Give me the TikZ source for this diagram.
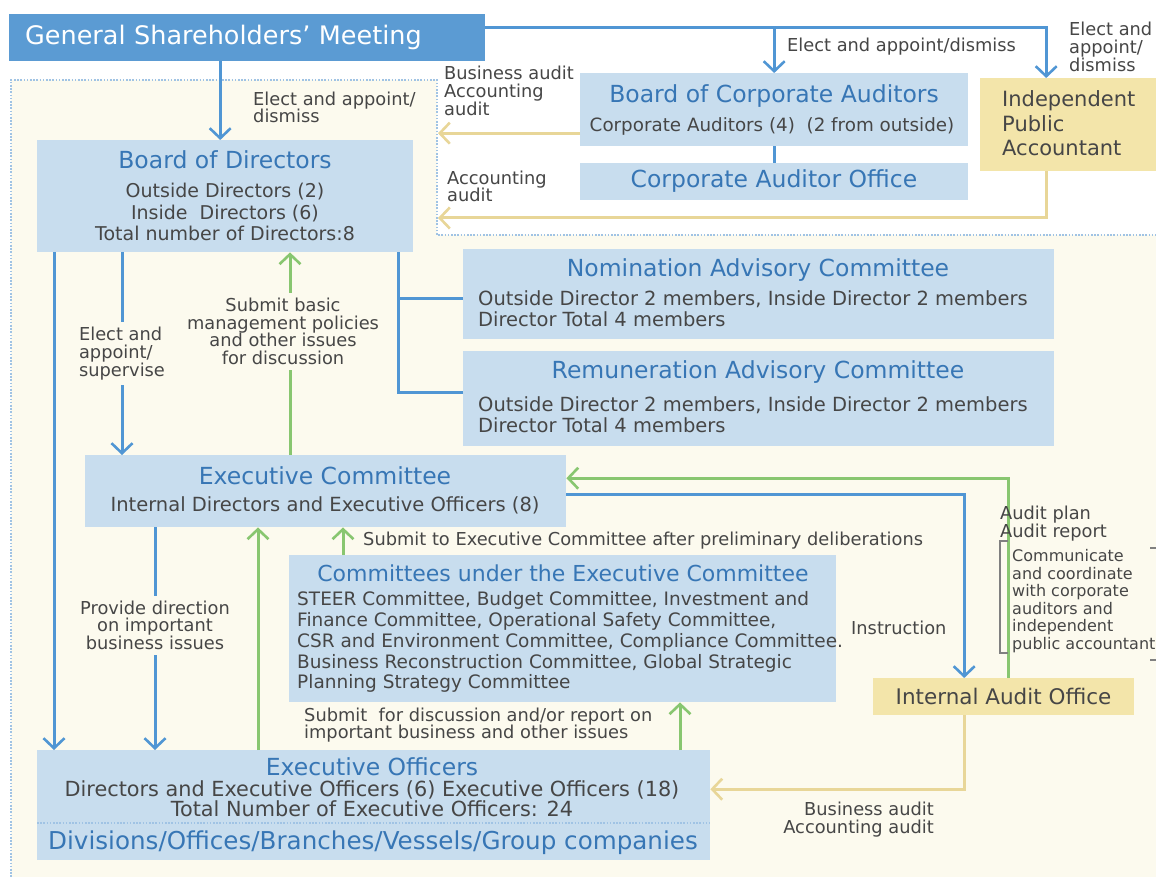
\documentclass[tikz,border=0pt]{standalone}
\usepackage{fontspec}
\setmainfont{DejaVu Sans}
\usetikzlibrary{positioning,arrows.meta}
\definecolor{gsmblue}{RGB}{91,155,211}
\definecolor{boxblue}{RGB}{200,221,238}
\definecolor{ttlblue}{RGB}{55,118,181}
\definecolor{lineblue}{RGB}{80,150,212}
\definecolor{linegreen}{RGB}{136,198,112}
\definecolor{lineyellow}{RGB}{232,214,152}
\definecolor{tanfill}{RGB}{243,229,170}
\definecolor{bgcream}{RGB}{252,250,238}
\definecolor{txtgray}{RGB}{70,70,70}
\definecolor{dotblue}{RGB}{160,195,228}
\tikzset{
	mybox/.style={draw=none,fill=boxblue,anchor=north west,inner sep=0pt},
	tanbox/.style={mybox,fill=tanfill},
	mytitle/.style={text=ttlblue,font=\fontsize{23.5}{26}\selectfont,inner sep=0pt},
	mytext/.style={text=txtgray,font=\fontsize{19.5}{21}\selectfont,inner sep=0pt},
	mylabel/.style={text=txtgray,font=\fontsize{17.8}{17.7}\selectfont,inner sep=0pt},
	cutlabel/.style={mylabel,fill=bgcream,inner sep=5pt},
	myline/.style={line width=3pt,draw=lineblue},
	myarrow1/.style={myline,-{Straight Barb[length=10pt,width=21pt,line width=2.6pt]}},
	myarrow2/.style={myarrow1,draw=linegreen},
	myarrow3/.style={myarrow1,draw=lineyellow},
	mydots/.style={draw=dotblue,line width=1.6pt,dash pattern=on 1.6pt off 1.6pt}
}
\begin{document}
\begin{tikzpicture}[x=1pt,y=-1pt]
	\useasboundingbox (0,0) rectangle (1156,877);
	\fill[white] (0,0) rectangle (1156,877);
	\fill[bgcream] (11,80) -- (437,80) -- (437,235) -- (1156,235) -- (1156,877) -- (11,877) -- cycle;
	\draw[mydots] (11,877) -- (11,80) -- (437,80) -- (437,235) -- (1156,235);

	\node[mybox,fill=gsmblue,minimum height=47pt,text width=444pt,inner xsep=16pt,align=left,text=white,font=\fontsize{25.5}{28}\selectfont](gsm) at (9,14){General Shareholders' Meeting};
	\coordinate (gsmR) at ([yshift=10.5pt]gsm.east);

	\node[mybox,minimum width=388pt,minimum height=73pt](bca) at (580,73){};
	\node[mytitle](bcaT) at (774,96){Board of Corporate Auditors};
	\node[mytext,font=\fontsize{18.3}{21}\selectfont](bcaB) at (772,126){Corporate Auditors (4)\ \ (2 from outside)};
	\draw[myarrow1] (gsmR -| bca.north) -- (bca.north);
	\node[mylabel,anchor=west](lblGA) at (787,47){Elect and appoint/dismiss};

	\node[tanbox,minimum width=190pt,minimum height=93pt](ipa) at (980,78){};
	\node[text=txtgray,font=\fontsize{21}{24.5}\selectfont,inner sep=0pt,align=left,anchor=west](ipaT) at (1002,123.5){Independent\\Public\\Accountant};
	\coordinate (ipaIn) at ([xshift=-29pt]ipa.north);
	\draw[myarrow1] (gsmR) -| (ipaIn);
	\node[mylabel,align=left,anchor=west](lblGI) at (1069,47){Elect and\\appoint/\\dismiss};

	\node[mybox,minimum width=388pt,minimum height=37pt](cao) at (580,163){};
	\node[mytitle](caoT) at (774,181.5){Corporate Auditor Office};
	\draw[myline] (bca) -- (cao);

	\coordinate (bcaOut) at ([yshift=-23.5pt]bca.west);
	\coordinate (audL) at (438,0);
	\draw[myarrow3] (bcaOut) -- (bcaOut -| audL);
	\node[mylabel,align=left,anchor=west](lblBA) at (444,91){Business audit\\Accounting\\audit};
	\coordinate (ipaOut) at ([xshift=-29pt]ipa.south);
	\coordinate (accEnd) at (438,218);
	\draw[myarrow3] (ipaOut) |- (accEnd);
	\node[mylabel,align=left,anchor=west](lblAA) at (447,186.5){Accounting\\audit};

	\node[mybox,minimum width=376pt,minimum height=112pt](bod) at (37,140){};
	\node[mytitle](bodT) at (225,160){Board of Directors};
	\node[mytext,font=\fontsize{19}{21.5}\selectfont,align=center](bodB) at (225,212){Outside Directors (2)\\Inside\ \ Directors (6)\\Total number of Directors:8};
	\coordinate (bodIn) at ([xshift=-5pt]bod.north);
	\draw[myarrow1] (gsm.south -| bodIn) -- (bodIn);
	\node[mylabel,align=left,anchor=west](lblGB) at (253,107.5){Elect and appoint/\\dismiss};

	\node[mybox,minimum width=591pt,minimum height=90pt](nom) at (463,249){};
	\node[mytitle](nomT) at (758,270){Nomination Advisory Committee};
	\node[mytext,align=left,anchor=west](nomB) at (478,308.5){Outside Director 2 members, Inside Director 2 members\\Director Total 4 members};

	\node[mybox,minimum width=591pt,minimum height=95pt](rem) at (463,351){};
	\node[mytitle](remT) at (758,372){Remuneration Advisory Committee};
	\node[mytext,align=left,anchor=west](remB) at (478,414.5){Outside Director 2 members, Inside Director 2 members\\Director Total 4 members};

	\coordinate (c4) at ([xshift=-15pt]bod.south east);
	\coordinate (nomIn) at ([yshift=-4pt]nom.west);
	\draw[myline] (c4) |- ([yshift=6.5pt]rem.west);
	\draw[myline] (c4 |- nomIn) -- (nomIn);

	\node[mybox,minimum width=481pt,minimum height=72pt](ec) at (85,455){};
	\node[mytitle](ecT) at (325,476){Executive Committee};
	\node[mytext](ecB) at (325,505){Internal Directors and Executive Officers (8)};

	\coordinate (c2) at ([xshift=85pt]bod.south west);
	\draw[myarrow1] (c2) -- node[cutlabel,align=left,midway](lblES){Elect and\\appoint/\\supervise} (c2 |- ec.north);
	\coordinate (c3) at ([xshift=205pt]ec.north west);
	\draw[myarrow2] (c3) -- node[cutlabel,align=center,pos=0.61,xshift=-7pt](lblSB){Submit basic\\management policies\\and other issues\\for discussion} (c3 |- bod.south);

	\node[mybox,minimum width=547pt,minimum height=147pt](com) at (289,555){};
	\node[mytitle,font=\fontsize{22}{26}\selectfont](comT) at (563,573){Committees under the Executive Committee};
	\node[mytext,font=\fontsize{18.5}{20.9}\selectfont,align=left,anchor=west](comB) at (297,642){STEER Committee, Budget Committee, Investment and\\Finance Committee, Operational Safety Committee,\\CSR and Environment Committee, Compliance Committee.\\Business Reconstruction Committee, Global Strategic\\Planning Strategy Committee};
	\coordinate (c7) at ([xshift=54pt]com.north west);
	\draw[myarrow2] (c7) -- (c7 |- ec.south);
	\node[mylabel,anchor=west](lblSE) at (363,541){Submit to Executive Committee after preliminary deliberations};

	\node[tanbox,minimum width=261pt,minimum height=37pt](iao) at (873,678){};
	\node[text=txtgray,font=\fontsize{21.5}{24}\selectfont,inner sep=0pt](iaoT) at (1003.5,696.5){Internal Audit Office};
	\coordinate (ecOut) at ([yshift=-3pt]ec.east);
	\coordinate (iaoIn) at ([xshift=-39.5pt]iao.north);
	\draw[myarrow1] (ecOut) -| (iaoIn);
	\node[mylabel,anchor=west](lblIN) at (851,628){Instruction};
	\coordinate (iaoOut) at ([xshift=4.5pt]iao.north);
	\coordinate (ecIn) at ([yshift=13pt]ec.east);
	\draw[myarrow2] (iaoOut) |- (ecIn);
	\node[mylabel,align=left,anchor=west](lblAP) at (1000,523.5){Audit plan\\Audit report};
	\node[mylabel,font=\fontsize{16}{17.6}\selectfont,align=left,anchor=west](lblCC) at (1012,601){Communicate\\and coordinate\\with corporate\\auditors and\\independent\\public accountant};
	\draw[draw=gray,line width=1.2pt] (lblCC.north west) ++(-4,-8) -- ++(-8,0) -- ++(0,112) -- ++(8,0);
	\draw[draw=gray,line width=1.2pt] (1150,548) -- (1157,548) -- (1157,660) -- (1150,660);

	\node[mybox,minimum width=673pt,minimum height=110pt](eo) at (37,750){};
	\node[mytitle](eoT) at (372,767){Executive Officers};
	\node[mytext,font=\fontsize{20.8}{20}\selectfont,align=center](eoB) at (372,799){Directors and Executive Officers (6) Executive Officers (18)\\Total Number of Executive Officers: 24};
	\draw[mydots] ([yshift=-18pt]eo.west) -- ([yshift=-18pt]eo.east);
	\node[mytitle,font=\fontsize{24.6}{28}\selectfont](eoD) at (373,843){Divisions/Offices/Branches/Vessels/Group companies};

	\coordinate (c1) at ([xshift=17pt]bod.south west);
	\draw[myarrow1] (c1) -- (c1 |- eo.north);
	\coordinate (c5) at ([xshift=70pt]ec.south west);
	\draw[myarrow1] (c5) -- node[cutlabel,align=center,pos=0.44](lblPD){Provide direction\\on important\\business issues} (c5 |- eo.north);
	\coordinate (c6) at ([xshift=221pt]eo.north west);
	\draw[myarrow2] (c6) -- (c6 |- ec.south);
	\coordinate (c8) at ([xshift=643pt]eo.north west);
	\draw[myarrow2] (c8) -- (c8 |- com.south);
	\node[mylabel,align=left,anchor=west](lblSD) at (304,725){Submit\ \ for discussion and/or report on\\important business and other issues};
	\coordinate (iaoDown) at ([xshift=-39.5pt]iao.south);
	\coordinate (eoIn) at ([yshift=16pt]eo.east);
	\draw[myarrow3] (iaoDown) |- (eoIn);
	\node[mylabel,align=right,anchor=east](lblBB) at (934,819.5){Business audit\\Accounting audit};
\end{tikzpicture}
\end{document}
